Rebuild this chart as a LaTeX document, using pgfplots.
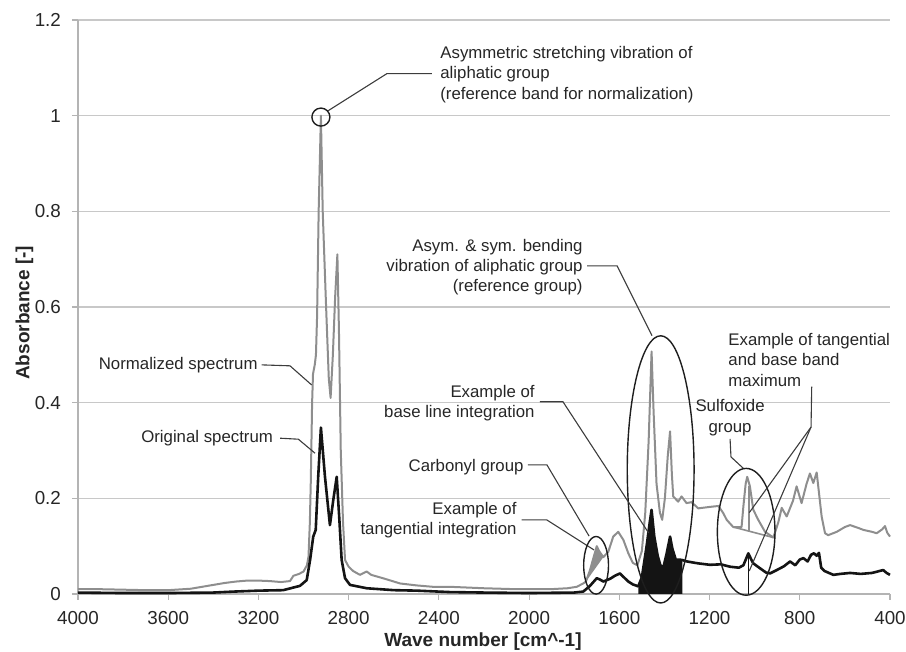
\documentclass[border=0pt]{standalone}
\usepackage{pgfplots}
\pgfplotsset{compat=1.18}
\usepackage{fontspec}
\setmainfont{Liberation Sans}
\definecolor{gridc}{HTML}{C8C8C8}
\definecolor{axc}{HTML}{B4B4B4}
\definecolor{specgray}{HTML}{8E8E8E}
\definecolor{specblack}{HTML}{141414}
\definecolor{txt}{HTML}{262626}
\definecolor{lead}{HTML}{3C3C3C}
\definecolor{ell}{HTML}{1E1E1E}
\begin{document}
\begin{tikzpicture}
\begin{axis}[
  at={(0,0)}, anchor=south west,
  scale only axis, width=406pt, height=287pt,
  xmin=400, xmax=4000, ymin=0, ymax=1.2,
  x dir=reverse,
  xtick={400,800,1200,1600,2000,2400,2800,3200,3600,4000},
  ytick={0,0.2,0.4,0.6,0.8,1,1.2},
  axis x line*=bottom, axis y line*=left,
  axis line style={axc, line width=0.6pt},
  ymajorgrids, grid style={gridc, line width=0.6pt},
  tick align=outside, major tick length=3pt,
  tick style={axc, line width=0.6pt},
  tick label style={font=\fontsize{9.4}{11}\selectfont, text=txt},
  xticklabel style={yshift=-2pt},
  yticklabel style={xshift=-2pt},
  /pgf/number format/1000 sep={},
  /pgf/number format/assume math mode=true,
  xlabel={Wave number [cm\textasciicircum-1]},
  ylabel={Absorbance [-]},
  label style={font=\bfseries\fontsize{9.5}{11}\selectfont, text=txt},
  xlabel style={at={(axis description cs:0.4988,-0.0831)}, anchor=center},
  ylabel style={at={(axis description cs:-0.0659,0.49)}, anchor=center},
  clip=false,
]
% normalized spectrum
\addplot[specgray, line width=1pt, line join=round] coordinates {
(4000,0.010) (3900,0.010) (3800,0.009) (3700,0.008) (3600,0.008) (3500,0.011)
(3450,0.015) (3400,0.019) (3350,0.023) (3300,0.026) (3250,0.028) (3200,0.028)
(3150,0.027) (3100,0.025) (3060,0.027) (3045,0.038) (3020,0.042) (3000,0.047)
(2985,0.060) (2978,0.078) (2972,0.15) (2968,0.232) (2962,0.40) (2958,0.46)
(2950,0.48) (2945,0.50) (2940,0.58) (2933,0.80) (2923,1.00) (2915,0.80)
(2900,0.60) (2888,0.45) (2880,0.41) (2870,0.50) (2860,0.62) (2850,0.71)
(2843,0.55) (2835,0.30) (2825,0.15) (2816,0.071) (2800,0.057) (2780,0.048)
(2750,0.040) (2720,0.047) (2700,0.040) (2648,0.033) (2572,0.022) (2500,0.018)
(2426,0.015) (2350,0.015) (2200,0.012) (2055,0.010) (1907,0.010) (1830,0.012)
(1789,0.015) (1760,0.022) (1748,0.026) (1730,0.050) (1715,0.075) (1700,0.100)
(1690,0.090) (1671,0.077) (1649,0.088) (1627,0.120) (1605,0.130) (1582,0.113)
(1560,0.085) (1540,0.065) (1520,0.060) (1500,0.090) (1485,0.170) (1470,0.320)
(1457,0.507) (1448,0.380) (1435,0.230) (1420,0.170) (1410,0.155) (1398,0.200)
(1385,0.290) (1375,0.340) (1367,0.250) (1361,0.204) (1339,0.193) (1324,0.204)
(1302,0.190) (1280,0.192) (1250,0.179) (1200,0.182) (1161,0.184) (1139,0.169)
(1124,0.155) (1095,0.140) (1058,0.140) (1050,0.183) (1040,0.230) (1033,0.245)
(1021,0.225) (1006,0.176) (984,0.155) (954,0.130) (917,0.118) (895,0.150)
(880,0.180) (858,0.162) (830,0.195) (814,0.225) (792,0.190) (770,0.230)
(755,0.252) (740,0.232) (725,0.254) (703,0.162) (688,0.127) (674,0.123)
(636,0.130) (600,0.140) (577,0.144) (540,0.138) (518,0.134) (480,0.130)
(459,0.127) (435,0.135) (422,0.142) (412,0.128) (400,0.120)
};
% tangential integration area (carbonyl)
\addplot[draw=none, fill=specgray] coordinates {
(1748,0.026) (1730,0.050) (1715,0.075) (1700,0.100) (1690,0.090) (1671,0.077) (1748,0.026)
};
% base line integration area
\addplot[draw=none, fill=specblack] coordinates {
(1516,0) (1516,0.016) (1500,0.035) (1479,0.100) (1465,0.150) (1457,0.176)
(1445,0.120) (1430,0.080) (1418,0.060) (1405,0.055) (1390,0.085) (1375,0.120)
(1365,0.095) (1350,0.072) (1335,0.072) (1321,0.071) (1321,0) (1516,0)
};
% original spectrum
\addplot[specblack, line width=1.3pt, line join=round] coordinates {
(4000,0.003) (3800,0.002) (3600,0.002) (3400,0.003) (3311,0.005) (3200,0.007)
(3090,0.008) (3016,0.017) (2986,0.029) (2971,0.071) (2957,0.120) (2946,0.134)
(2935,0.245) (2923,0.348) (2905,0.245) (2883,0.144) (2868,0.197) (2853,0.245)
(2842,0.162) (2831,0.071) (2816,0.033) (2794,0.019) (2720,0.012) (2600,0.008)
(2498,0.007) (2351,0.004) (2200,0.003) (2000,0.002) (1800,0.003) (1760,0.005)
(1730,0.017) (1700,0.033) (1685,0.030) (1671,0.026) (1640,0.032) (1620,0.038)
(1597,0.043) (1580,0.035) (1560,0.026) (1540,0.020) (1516,0.016) (1500,0.035)
(1479,0.100) (1465,0.150) (1457,0.176) (1445,0.120) (1430,0.080) (1418,0.060)
(1405,0.055) (1390,0.085) (1375,0.120) (1365,0.095) (1350,0.072) (1335,0.072)
(1321,0.071) (1300,0.068) (1250,0.064) (1198,0.061) (1150,0.062) (1109,0.057)
(1070,0.055) (1050,0.060) (1028,0.085) (1015,0.072) (1006,0.064) (977,0.054)
(950,0.045) (932,0.043) (902,0.050) (870,0.058) (843,0.068) (820,0.060)
(800,0.072) (784,0.075) (765,0.068) (750,0.082) (737,0.085) (725,0.080)
(715,0.086) (705,0.055) (690,0.048) (651,0.040) (620,0.042) (577,0.044)
(530,0.042) (480,0.044) (430,0.050) (415,0.044) (400,0.040)
};
% tangent and band maximum lines (sulfoxide)
\addplot[specgray, line width=0.8pt] coordinates {(1095,0.140) (917,0.118)};
\addplot[specgray, line width=0.8pt] coordinates {(1026,0.131) (1026,0.225)};
\addplot[specblack, line width=0.8pt] coordinates {(1028,0) (1028,0.084)};

% annotations
\draw[ell, line width=0.7pt] (axis cs:2923,0.997) circle [radius=4.5pt];
\draw[lead, line width=0.55pt] (axis cs:2892,1.010) -- (axis cs:2630,1.088) -- (axis cs:2431,1.088);
\node[anchor=west, align=left, text=txt, font=\fontsize{8.4}{10.4}\selectfont, inner sep=0pt]
  at (axis cs:2395,1.086) {Asymmetric stretching vibration of\\aliphatic group\\(reference band for normalization)};

\node[anchor=east, align=right, text=txt, font=\fontsize{8.4}{10}\selectfont, inner sep=0pt]
  at (axis cs:1761,0.684) {Asym. \& sym. bending\\vibration of aliphatic group\\(reference group)};
\draw[lead, line width=0.55pt] (axis cs:1743,0.686) -- (axis cs:1610,0.686) -- (axis cs:1455,0.540);
\draw[ell, line width=0.7pt] (axis cs:1416.7,0.2605) ellipse [x radius=16.7pt, y radius=66.8pt];

\node[anchor=east, align=right, text=txt, font=\fontsize{8.4}{10}\selectfont, inner sep=0pt]
  at (axis cs:1974,0.400) {Example of\\base line integration};
\draw[lead, line width=0.55pt] (axis cs:1952,0.402) -- (axis cs:1850,0.402) -- (axis cs:1470,0.1276);

\node[anchor=east, text=txt, font=\fontsize{8.4}{10}\selectfont, inner sep=0pt]
  at (axis cs:2023,0.266) {Carbonyl group};
\draw[lead, line width=0.55pt] (axis cs:2005,0.270) -- (axis cs:1921,0.270) -- (axis cs:1734,0.121);

\node[anchor=east, align=right, text=txt, font=\fontsize{8.4}{10}\selectfont, inner sep=0pt]
  at (axis cs:2054,0.155) {Example of\\tangential integration};
\draw[lead, line width=0.55pt] (axis cs:2033,0.155) -- (axis cs:1922,0.155) -- (axis cs:1712,0.092);
\draw[ell, line width=0.7pt] (axis cs:1703,0.060) ellipse [x radius=6.2pt, y radius=14.4pt];

\node[anchor=center, align=center, text=txt, font=\fontsize{8.4}{10.4}\selectfont, inner sep=0pt]
  at (axis cs:1109,0.369) {Sulfoxide\\group};
\draw[lead, line width=0.55pt] (axis cs:1109,0.3243) -- (axis cs:1105,0.2866) -- (axis cs:1050,0.2626);
\draw[ell, line width=0.7pt] (axis cs:1037.6,0.130) ellipse [x radius=14.4pt, y radius=31.7pt];

\node[anchor=west, align=left, text=txt, font=\fontsize{8.4}{10.2}\selectfont, inner sep=0pt]
  at (axis cs:1118,0.4895) {Example of tangential\\and base band\\maximum};
\draw[lead, line width=0.55pt] (axis cs:747,0.4337) -- (axis cs:750,0.349) -- (axis cs:1024,0.170);
\draw[lead, line width=0.55pt] (axis cs:750,0.349) -- (axis cs:1024,0.048);

\node[anchor=east, text=txt, font=\fontsize{8.4}{10}\selectfont, inner sep=0pt]
  at (axis cs:3202,0.479) {Normalized spectrum};
\draw[lead, line width=0.55pt] (axis cs:3186,0.479) -- (axis cs:3060,0.477) -- (axis cs:2964,0.437);

\node[anchor=east, text=txt, font=\fontsize{8.4}{10}\selectfont, inner sep=0pt]
  at (axis cs:3134,0.3257) {Original spectrum};
\draw[lead, line width=0.55pt] (axis cs:3104,0.3257) -- (axis cs:3023,0.3236) -- (axis cs:2949,0.2943);
\end{axis}
\pgfresetboundingbox
\useasboundingbox (-39pt,-29pt) rectangle (414pt,297pt);
\end{tikzpicture}
\end{document}
